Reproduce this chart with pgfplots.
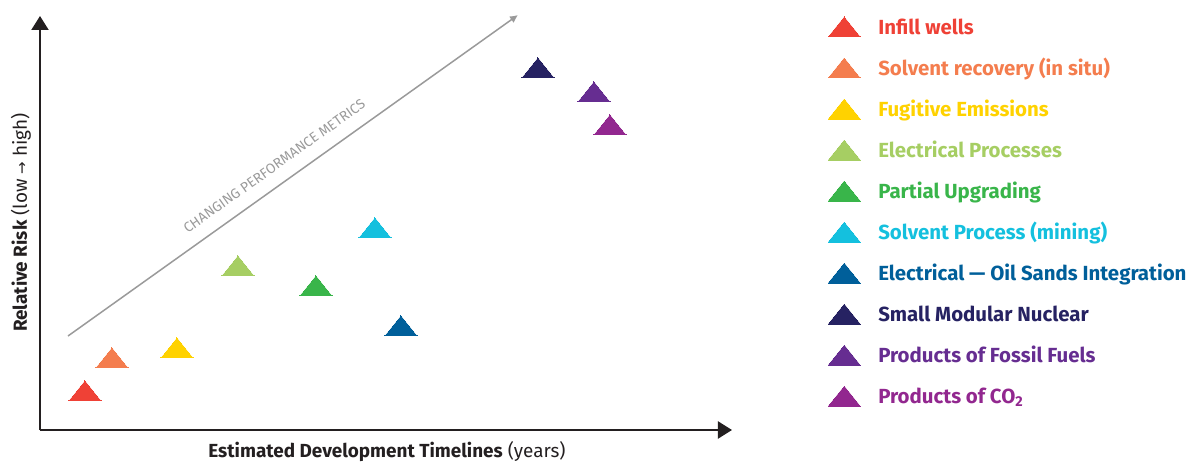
\documentclass[border=0pt]{standalone}
\usepackage{pgfplots}
\pgfplotsset{compat=1.18}
\usetikzlibrary{arrows.meta}
\usepackage{fontspec}
\setmainfont{Fira Sans}
\newfontfamily\symfont{DejaVu Sans}
\definecolor{c1}{HTML}{EF4136}
\definecolor{c2}{HTML}{F47D4E}
\definecolor{c3}{HTML}{FFD200}
\definecolor{c4}{HTML}{A6CE63}
\definecolor{c5}{HTML}{39B54A}
\definecolor{c6}{HTML}{14C0DE}
\definecolor{c7}{HTML}{005F9A}
\definecolor{c8}{HTML}{262262}
\definecolor{c9}{HTML}{662D91}
\definecolor{c10}{HTML}{92278F}
\definecolor{axc}{HTML}{231F20}
\definecolor{grayl}{HTML}{9A9A9A}
\begin{document}
\begin{tikzpicture}
\begin{axis}[
  x=1bp, y=1bp,
  xmin=40, xmax=732, ymin=35, ymax=449,
  axis lines=left,
  axis line style={line width=2bp, color=axc, -{Triangle[length=14bp,width=17bp]}},
  xtick=\empty, ytick=\empty,
  clip=false,
  xlabel={\textbf{Estimated Development Timelines} (years)},
  ylabel={\textbf{Relative Risk} (low {\symfont\fontsize{15}{17}\selectfont →} high)},
  label style={font=\fontsize{19}{22}\selectfont, color=axc, inner sep=0pt},
  xlabel style={at={(axis description cs:0.5014,-0.0675)}, anchor=base},
  ylabel style={at={(axis description cs:-0.0188,0.5012)}, anchor=base},
  legend style={at={(axis description cs:1.1391,0.9976)}, anchor=north west,
    draw=none, fill=none, inner sep=0pt, outer sep=0pt,
    font=\bfseries\fontsize{20.5}{24}\selectfont,
    nodes={inner sep=0pt, text height=14bp, text depth=4bp},
    row sep=20bp,
    /tikz/every odd column/.append style={column sep=18bp}},
  legend cell align=left,
  legend image code/.code={\draw[mark repeat=2,mark phase=2,#1] plot coordinates {(0bp,-1.3bp) (16bp,-1.3bp) (32bp,-1.3bp)};},
  every axis plot/.append style={only marks, mark=triangle*, mark size=18.5bp},
]
\addplot[c1, mark options={fill=c1, draw=c1, line width=0pt, yscale=0.72}] coordinates {(85,70.7)};
\addlegendentry{\textcolor{c1}{Infill wells}}
\addplot[c2, mark options={fill=c2, draw=c2, line width=0pt, yscale=0.72}] coordinates {(112,103.7)};
\addlegendentry{\textcolor{c2}{Solvent recovery (in situ)}}
\addplot[c3, mark options={fill=c3, draw=c3, line width=0pt, yscale=0.72}] coordinates {(177,113.7)};
\addlegendentry{\textcolor{c3}{Fugitive Emissions}}
\addplot[c4, mark options={fill=c4, draw=c4, line width=0pt, yscale=0.72}] coordinates {(238,195.7)};
\addlegendentry{\textcolor{c4}{Electrical Processes}}
\addplot[c5, mark options={fill=c5, draw=c5, line width=0pt, yscale=0.72}] coordinates {(316,175.7)};
\addlegendentry{\textcolor{c5}{Partial Upgrading}}
\addplot[c6, mark options={fill=c6, draw=c6, line width=0pt, yscale=0.72}] coordinates {(375,233.7)};
\addlegendentry{\textcolor{c6}{Solvent Process (mining)}}
\addplot[c7, mark options={fill=c7, draw=c7, line width=0pt, yscale=0.72}] coordinates {(401,135.7)};
\addlegendentry{\textcolor{c7}{Electrical — Oil Sands Integration}}
\addplot[c8, mark options={fill=c8, draw=c8, line width=0pt, yscale=0.72}] coordinates {(538,393.7)};
\addlegendentry{\textcolor{c8}{Small Modular Nuclear}}
\addplot[c9, mark options={fill=c9, draw=c9, line width=0pt, yscale=0.72}] coordinates {(594,369.7)};
\addlegendentry{\textcolor{c9}{Products of Fossil Fuels}}
\addplot[c10, mark options={fill=c10, draw=c10, line width=0pt, yscale=0.72}] coordinates {(610,336.7)};
\addlegendentry{\textcolor{c10}{Products of CO\textsubscript{2}}}
\draw[grayl, line width=1.5bp, -{Latex[length=8bp,width=8bp]}] (axis cs:68,129) -- (axis cs:518,450);
\node[grayl, rotate=35.5, font=\fontsize{14}{16}\selectfont, anchor=base, inner sep=0pt] at (axis cs:277,295) {CHANGING PERFORMANCE METRICS};
\coordinate (O) at (axis cs:0,0);
\end{axis}
\path (O) rectangle ++(1192bp,465bp);
\end{tikzpicture}
\end{document}
